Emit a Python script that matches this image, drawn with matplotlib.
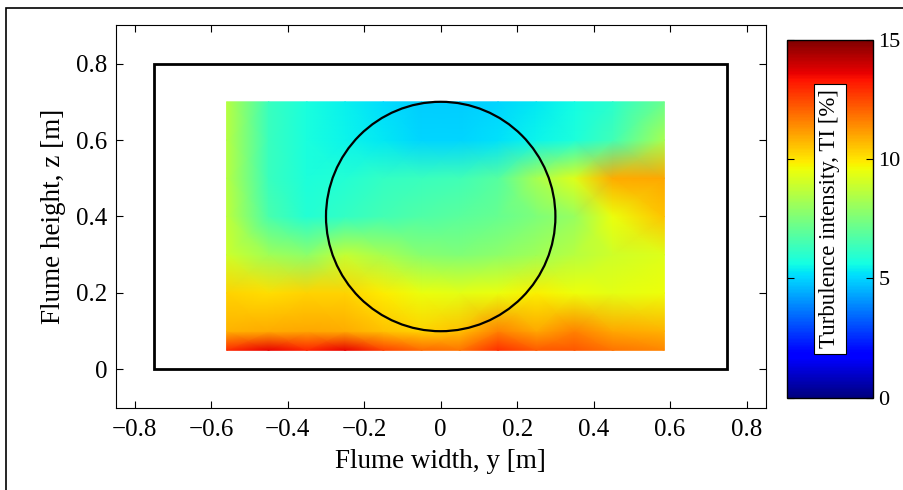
import numpy as np
import matplotlib.pyplot as plt
from matplotlib.patches import Rectangle, Circle

plt.rcParams['font.family'] = ['Liberation Serif', 'DejaVu Serif']

# measurement grid across the flume (y = width, z = height) [m]
y_pos = [-0.56, -0.45, -0.35, -0.25, -0.15, -0.05, 0.05, 0.15, 0.25, 0.35, 0.45, 0.585]
z_pos = [0.05, 0.10, 0.20, 0.30, 0.40, 0.50, 0.60, 0.70]

# turbulence intensity TI [%], one row per z position (bottom to top)
ti = [
    [13.0, 13.6, 13.1, 13.6, 12.6, 12.0, 11.8, 12.9, 12.2, 12.3, 11.8, 11.5],
    [10.8, 10.9, 11.0, 10.9, 10.6, 10.3, 10.6, 11.6, 11.0, 11.6, 11.0, 10.8],
    [10.3, 10.1, 10.3, 10.3, 9.9, 9.5, 9.4, 9.5, 9.8, 9.6, 9.4, 9.6],
    [9.0, 8.2, 7.8, 8.8, 8.3, 7.7, 7.6, 7.8, 8.2, 8.6, 9.0, 9.3],
    [8.7, 6.6, 5.9, 6.2, 6.5, 6.7, 6.9, 7.1, 7.5, 8.0, 9.5, 10.5],
    [8.6, 6.3, 5.8, 5.9, 6.2, 6.3, 6.4, 6.8, 8.3, 9.3, 10.9, 11.0],
    [8.6, 6.3, 5.7, 5.5, 5.3, 5.0, 5.0, 5.2, 5.5, 5.8, 6.4, 8.3],
    [8.6, 6.3, 5.7, 5.4, 5.1, 4.9, 4.9, 5.0, 5.3, 5.6, 6.0, 7.2],
]

# flume cross-section and rotor swept area
flume_y = [-0.75, 0.75]
flume_z = [0.0, 0.8]
rotor_centre = (0.0, 0.4)
rotor_radius = 0.3

x_ticks = [-0.8, -0.6, -0.4, -0.2, 0, 0.2, 0.4, 0.6, 0.8]
x_labels = ['\u22120.8', '\u22120.6', '\u22120.4', '\u22120.2', '0', '0.2', '0.4', '0.6', '0.8']
y_ticks = [0, 0.2, 0.4, 0.6, 0.8]
y_labels = ['0', '0.2', '0.4', '0.6', '0.8']
cb_ticks = [0, 5, 10, 15]

fig = plt.figure(figsize=(9.04, 4.9), dpi=100)
ax = fig.add_axes([115.7 / 904, 82 / 490, 650 / 904, 383 / 490])

Y, Z = np.meshgrid(y_pos, z_pos)
mesh = ax.pcolormesh(Y, Z, np.array(ti), shading='gouraud', cmap='jet', vmin=0, vmax=15)

ax.add_patch(Rectangle((flume_y[0], flume_z[0]), flume_y[1] - flume_y[0],
                       flume_z[1] - flume_z[0], fill=False, ec='black', lw=2.0))
ax.add_patch(Circle(rotor_centre, rotor_radius, fill=False, ec='black', lw=1.6))

ax.set_xlim(-0.85, 0.85)
ax.set_ylim(-0.1, 0.9)
ax.set_aspect('equal', adjustable='box')
ax.set_xticks(x_ticks)
ax.set_xticklabels(x_labels)
ax.set_yticks(y_ticks)
ax.set_yticklabels(y_labels)
ax.tick_params(direction='in', top=True, right=True, length=5, width=0.8,
               labelsize=18, pad=6)
ax.tick_params(axis='x', pad=8)
ax.set_xlabel('Flume width, y [m]', fontsize=19.5, labelpad=6)
ax.set_ylabel('Flume height, z [m]', fontsize=19.5, labelpad=7)
for s in ax.spines.values():
    s.set_linewidth(0.8)

# colourbar with boxed label inside
cax = fig.add_axes([787.3 / 904, 92.3 / 490, 85.4 / 904, 357.7 / 490])
cb = fig.colorbar(mesh, cax=cax)
cb.set_ticks(cb_ticks)
cb.set_ticklabels([str(t) for t in cb_ticks])
cb.outline.set_linewidth(1.0)
cax.tick_params(direction='in', left=True, right=True, length=5, width=0.8,
                labelsize=16, pad=4)
cax.text(0.5, 0.5, 'Turbulence intensity, TI [%]', rotation=90, ha='center',
         va='center', fontsize=16.5, transform=cax.transAxes,
         bbox=dict(boxstyle='square,pad=0.25', fc='white', ec='black', lw=0.8))

# figure frame
fig.patches.append(Rectangle((6 / 904, -0.5), 2, 1.5 - 8 / 490, fill=False,
                             ec='black', lw=1.2, transform=fig.transFigure, figure=fig))

fig.savefig('out.png', dpi=100)
